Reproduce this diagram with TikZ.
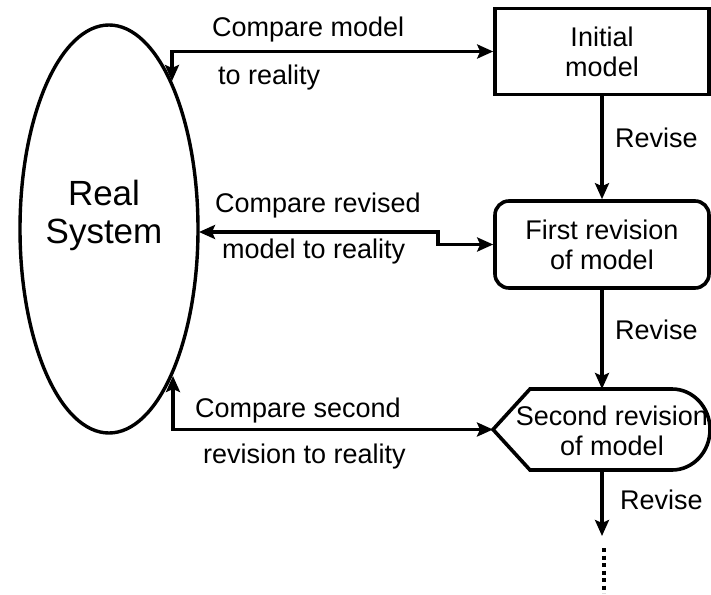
\documentclass[tikz,border=0pt]{standalone}
\usepackage{fontspec}
\setmainfont{Liberation Sans}
\usetikzlibrary{shapes.geometric,arrows.meta}
\begin{document}
\begin{tikzpicture}[x=1pt,y=-1pt,
  txt/.style={inner sep=0pt,font=\fontsize{27}{30}\selectfont},
  lbl/.style={txt,anchor=west},
  con/.style={line width=3.6pt,{Stealth[length=16pt,width=14pt,inset=3pt]}-{Stealth[length=16pt,width=14pt,inset=3pt]}},
  flow/.style={line width=3.6pt,-{Stealth[length=16pt,width=14pt,inset=3pt]}},
  boxd/.style={draw,line width=3.6pt,minimum width=214pt,minimum height=86pt,align=center,txt}]
\useasboundingbox (0,0) rectangle (711,594);
% real system
\node[draw,ellipse,line width=3.4pt,minimum width=178pt,minimum height=408pt,inner sep=0pt] (sys) at (109,229) {};
\node[inner sep=0pt,align=center,font=\fontsize{35}{38}\selectfont] (systxt) at (104,215) {Real\\System};
% boxes
\node[boxd] (init) at (602,51.5) {Initial\\model};
\node[boxd,rounded corners=14pt,minimum height=87pt] (first) at (602,244.5) {First revision\\of model};
\draw[line width=3.6pt] (493,429.5) -- (530,389) -- (672,389)
   arc[start angle=-90,end angle=90,x radius=38,y radius=40.5] -- (530,470) -- cycle;
\node[txt,align=center] (sec) at (612,431) {Second revision\\of model};
\coordinate (sectip) at (493,429.5);
\coordinate (sectop) at (602,389);
\coordinate (secbot) at (602,470);
\coordinate (more) at (602,536);
\coordinate (dotsA) at (604,548);
\coordinate (dotsB) at (604,593);
% ellipse attach points
\coordinate (e1) at (172,81);
\coordinate (e2) at (199,232);
\coordinate (e3) at (173,376);
\coordinate (bend) at (438,232);
% connectors
\draw[con] (e1) |- (init.west);
\draw[con] (e2) -- (bend) |- (first.west);
\draw[con] (e3) |- (sectip);
\draw[flow] (init.south) -- (first.north);
\draw[flow] (first.south) -- (sectop);
\draw[flow] (secbot) -- (more);
\draw[line width=4pt,dash pattern=on 4pt off 3.5pt] (dotsA) -- (dotsB);
% labels
\node[lbl] (l1) at (212,30) {Compare model};
\node[lbl] (l2) at (218,78) {to reality};
\node[lbl] (l3) at (215,206) {Compare revised};
\node[lbl] (l4) at (222,252) {model to reality};
\node[lbl] (l5) at (195,411) {Compare second};
\node[lbl] (l6) at (203,457) {revision to reality};
\node[lbl] (r1) at (615,138) {Revise};
\node[lbl] (r2) at (615,330) {Revise};
\node[lbl] (r3) at (620,500) {Revise};
\end{tikzpicture}
\end{document}
